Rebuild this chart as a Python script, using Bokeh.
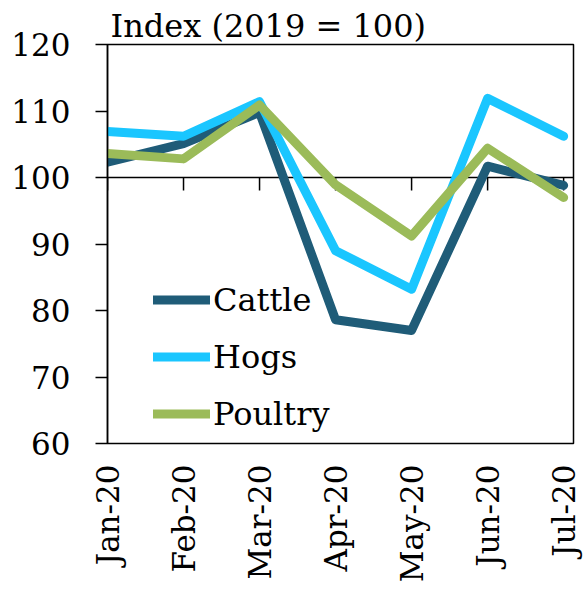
from bokeh.plotting import figure
from bokeh.models import Range1d, FixedTicker, Span, Legend, LegendItem, Title
from bokeh.embed import file_html
from bokeh.resources import INLINE

months = ["Jan-20", "Feb-20", "Mar-20", "Apr-20", "May-20", "Jun-20", "Jul-20"]
cattle = [102.3, 105.1, 109.8, 78.6, 77.0, 101.7, 98.8]
hogs = [106.9, 106.2, 111.4, 89.0, 83.2, 111.9, 106.2]
poultry = [103.6, 102.8, 110.9, 98.9, 91.2, 104.4, 97.0]
y_ticks = [60, 70, 80, 90, 100, 110, 120]
baseline = 100
title_text = "Index (2019 = 100)"

FONT = "DejaVu Serif"
xs = list(range(len(months)))

p = figure(frame_width=466, frame_height=399,
           min_border_left=107, min_border_top=44, min_border_right=12, min_border_bottom=147,
           x_range=Range1d(0, 6.13), y_range=Range1d(60, 120),
           output_backend="svg", toolbar_location=None)
p.background_fill_color = "white"
p.border_fill_color = "white"
p.outline_line_color = "black"
p.outline_line_width = 1.5
p.xgrid.visible = False
p.ygrid.visible = False

# y axis
p.yaxis.ticker = FixedTicker(ticks=y_ticks)
p.yaxis.major_tick_out = 12
p.yaxis.major_tick_in = 0
p.yaxis.minor_tick_line_color = None
p.yaxis.axis_line_color = "black"
p.yaxis.axis_line_width = 1.5
p.yaxis.major_tick_line_width = 1.5
p.yaxis.major_label_standoff = 25
p.yaxis.major_label_text_font = FONT
p.yaxis.major_label_text_font_size = "31px"
p.yaxis.major_label_text_color = "black"

# x axis (labels only, at the bottom)
p.xaxis.ticker = FixedTicker(ticks=xs)
p.xaxis.major_label_overrides = {i: m for i, m in enumerate(months)}
p.xaxis.major_label_orientation = 1.5707963267948966
p.xaxis.axis_line_color = None
p.xaxis.major_tick_line_color = None
p.xaxis.minor_tick_line_color = None
p.xaxis.major_tick_out = 0
p.xaxis.major_label_standoff = 21
p.xaxis.major_label_text_font = FONT
p.xaxis.major_label_text_font_size = "31px"
p.xaxis.major_label_text_color = "black"

# baseline at 100 with downward ticks
span = Span(location=baseline, dimension="width", line_color="black", line_width=1.5, level="underlay")
p.add_layout(span)
p.ray(x=xs, y=[baseline] * len(xs), length=13, length_units="screen", angle=-1.5707963267948966,
      line_color="black", line_width=1.5, level="underlay")

colors = {"Cattle": "#1F5C78", "Hogs": "#1AC6FF", "Poultry": "#9BBB59"}
r_c = p.line(xs, cattle, line_color=colors["Cattle"], line_width=9, line_cap="round", line_join="round")
r_h = p.line(xs, hogs, line_color=colors["Hogs"], line_width=9, line_cap="round", line_join="round")
r_p = p.line(xs, poultry, line_color=colors["Poultry"], line_width=9, line_cap="round", line_join="round")

legend = Legend(items=[LegendItem(label="Cattle", renderers=[r_c]),
                       LegendItem(label="Hogs", renderers=[r_h]),
                       LegendItem(label="Poultry", renderers=[r_p])],
                location=(46, 1), padding=0, margin=0, spacing=0,
                glyph_width=57, glyph_height=57, label_height=57, label_standoff=3,
                label_text_font=FONT, label_text_font_size="32px", label_text_color="black",
                border_line_color=None, background_fill_alpha=0)
p.add_layout(legend, "center")

p.title.visible = False
t = Title(text=title_text, align="left", offset=3, standoff=0, text_font=FONT,
          text_font_size="32px", text_font_style="normal", text_color="black")
p.add_layout(t, "above")

open("out.html", "w").write(file_html(p, INLINE))
